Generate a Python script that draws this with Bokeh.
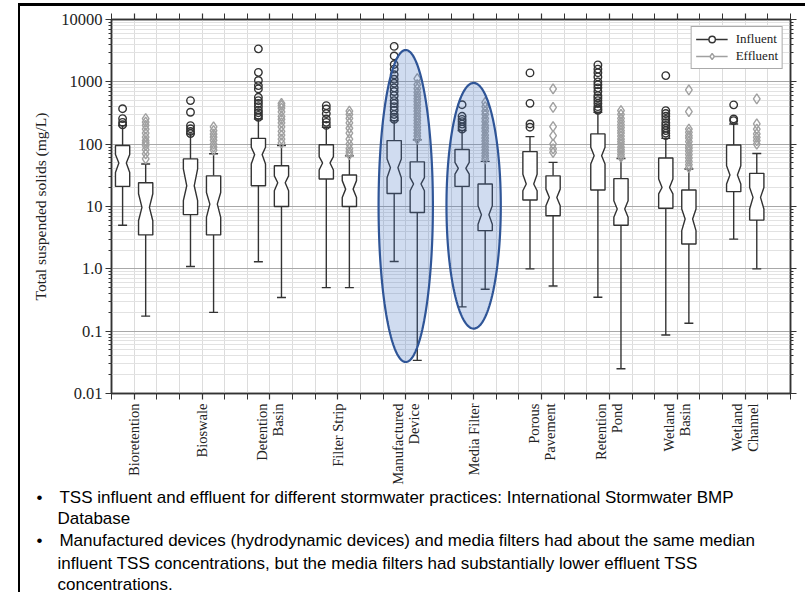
import numpy as np
from bokeh.plotting import figure
from bokeh.models import (FixedTicker, LinearAxis, LogAxis, Legend, LegendItem,
                          Title, Range1d)
from bokeh.embed import file_html
from bokeh.resources import INLINE

# ---------------- data ----------------
categories = ["Bioretention", "Bioswale", "Detention\nBasin", "Filter Strip",
              "Manufactured\nDevice", "Media Filter", "Porous\nPavement",
              "Retention\nPond", "Wetland\nBasin", "Wetland\nChannel"]

inf_lo = [5.0, 1.09, 1.3, 0.5, 1.31, 0.245, 1.0, 0.35, 0.087, 3.0]
inf_q1 = [21, 7.4, 21.5, 27.6, 16.2, 21, 12.7, 18.4, 9.4, 17.3]
inf_notch_lo = [35, 12.4, 48, 38.5, 29, 33, 17.9, 48, 15.9, 23]
inf_median = [50, 21.5, 68, 50, 42, 41, 23, 65, 20.2, 32]
inf_notch_hi = [68, 40, 89, 63, 58, 51, 33, 89, 27.6, 45]
inf_q3 = [95, 58, 124, 98, 114, 82, 76, 146, 60, 97]
inf_hi = [198, 146, 254, 187, 239, 165, 132, 324, 124, 211]
inf_outliers = [
    [205, 224, 257, 371],
    [148, 160, 177, 198, 325, 500],
    [270, 290, 320, 350, 400, 450, 500, 565, 770, 870, 1050, 1420, 3380],
    [200, 224, 254, 310, 367, 415],
    [250, 270, 300, 350, 400, 450, 500, 600, 700, 800, 950, 1100, 1300, 1600, 1900, 2600, 3700],
    [175, 190, 210, 230, 250, 280, 430],
    [187, 211, 452, 1390],
    [350, 370, 400, 450, 500, 550, 600, 700, 800, 900, 1000, 1200, 1400, 1600, 1870],
    [137, 150, 165, 180, 200, 220, 250, 280, 310, 345, 1260],
    [239, 254, 427],
]

eff_lo = [0.174, 0.2, 0.346, 0.5, 0.034, 0.47, 0.53, 0.025, 0.134, 1.0]
eff_q1 = [3.5, 3.5, 10, 10, 8.0, 4.1, 7.1, 5.0, 2.5, 6.05]
eff_notch_lo = [5.9, 6.7, 17.9, 14, 17.9, 5.2, 10.3, 6.7, 4.1, 9.1]
eff_median = [9.7, 10.9, 24, 19, 23, 7.4, 14, 9.1, 6.3, 14]
eff_notch_hi = [16, 16.8, 31, 26, 29, 10.3, 19, 12.4, 9.1, 20.2]
eff_q3 = [24, 31, 45, 32, 52, 23, 31, 28, 18.4, 34]
eff_hi = [48, 70, 95, 65, 117, 53, 51, 59, 40, 71]
eff_outliers = [
    [58, 70, 82, 95, 105, 114, 130, 150, 175, 200, 225, 257],
    [80, 90, 100, 115, 130, 145, 165, 190],
    [105, 120, 140, 160, 190, 220, 250, 280, 330, 380, 420, 450],
    [68, 75, 85, 100, 120, 150, 180, 220, 260, 300, 340],
    [120, 135, 150, 170, 190, 215, 240, 270, 300, 340, 380, 430, 480, 540, 600, 680, 780, 900, 1130],
    [58, 65, 72, 80, 90, 100, 112, 125, 140, 160, 180, 200, 230, 260, 300, 340, 400, 470],
    [74, 84, 100, 137, 191, 390, 771],
    [62, 68, 75, 82, 90, 100, 110, 120, 135, 150, 165, 185, 205, 230, 260, 300, 345],
    [42, 47, 53, 60, 68, 77, 86, 95, 110, 125, 137, 155, 175, 333, 743],
    [100, 114, 129, 146, 175, 211, 532],
]

y_tick_values = [0.01, 0.1, 1, 10, 100, 1000, 10000]
y_tick_labels = ["0.01", "0.1", "1.0", "10", "100", "1000", "10000"]

# highlighted groups (ellipses): category, top value, bottom value
highlight_cats = ["Manufactured\nDevice", "Media Filter"]
highlight_top = [3240, 960]
highlight_bottom = [0.032, 0.11]

y_label = "Total suspended solids (mg/L)"
notes = [
    (True, "TSS influent and effluent for different stormwater practices: International Stormwater BMP"),
    (False, "Database"),
    (True, "Manufactured devices (hydrodynamic devices) and media filters had about the same median"),
    (False, "influent TSS concentrations, but the media filters had substantially lower effluent TSS"),
    (False, "concentrations."),
]

# ---------------- styles ----------------
SERIF = "Liberation Serif"
NARROW = "'Liberation Sans Narrow', 'Arial Narrow', 'Liberation Sans', sans-serif"
DARK = "#333333"
GREY = "#a0a0a0"
OFF = 0.17
HW = 0.105
WAIST = 0.055
CAP = 0.066

n = len(categories)
centers = list(range(1, n + 1))

p = figure(width=787, height=589,
           x_range=Range1d(1 - 1 / 3, n + 2 / 3), y_range=Range1d(0.01, 10000),
           y_axis_type="log", output_backend="svg", toolbar_location=None,
           min_border_left=91, min_border_right=17, min_border_top=13,
           min_border_bottom=202)
# slide frame (thick black top and left borders)
p.styles = {"margin-left": "18px", "margin-top": "3px",
            "border-top": "3px solid black", "border-left": "2.5px solid black"}
p.background_fill_color = "white"
p.border_fill_color = "white"
p.outline_line_color = DARK
p.outline_line_width = 1.5

# grids
p.xgrid.grid_line_color = "#dcdcdc"
p.xgrid.minor_grid_line_color = "#dcdcdc"
p.ygrid.grid_line_color = "#a8a8a8"
p.ygrid.minor_grid_line_color = "#e2e2e2"

thirds = [1 - 1 / 3 + k / 3 for k in range(3 * n + 1)]
xticker = FixedTicker(ticks=centers, minor_ticks=[t for t in thirds if abs(t - round(t)) > 1e-6])
yminor = [d * m for d in y_tick_values[:-1] for m in range(2, 10)]
yticker = FixedTicker(ticks=y_tick_values, minor_ticks=yminor)

xa = p.xaxis[0]
xa.ticker = xticker
xa.major_label_overrides = {c: lab for c, lab in zip(centers, categories)}
xa.major_label_orientation = np.pi / 2
xa.major_label_text_font = SERIF
xa.major_label_text_font_size = "14.5px"
xa.major_label_text_line_height = 1.0
xa.major_label_text_color = "#222222"
xa.major_label_standoff = 4
xa.axis_label_standoff = 0

ya = p.yaxis[0]
ya.ticker = yticker
ya.major_label_overrides = {v: l for v, l in zip(y_tick_values, y_tick_labels)}
ya.major_label_text_font = SERIF
ya.major_label_text_font_size = "16.5px"
ya.major_label_text_color = "#222222"
ya.major_label_standoff = 3
ya.axis_label = y_label
ya.axis_label_text_font = SERIF
ya.axis_label_text_font_size = "15.5px"
ya.axis_label_text_font_style = "normal"
ya.axis_label_text_color = "#222222"
ya.axis_label_standoff = 9

top_ax = LinearAxis(ticker=xticker, major_label_overrides={c: "" for c in centers})
right_ax = LogAxis(ticker=yticker, major_label_overrides={v: "" for v in y_tick_values})
p.add_layout(top_ax, "above")
p.add_layout(right_ax, "right")

for ax, is_x in [(xa, True), (top_ax, True), (ya, False), (right_ax, False)]:
    ax.axis_line_color = DARK
    ax.axis_line_width = 1.5
    ax.major_tick_line_color = DARK
    ax.minor_tick_line_color = DARK
    ax.major_tick_line_width = 1.2
    ax.minor_tick_line_width = 1.0
    ax.major_tick_in = 0
    ax.minor_tick_in = 0
    ax.major_tick_out = 6
    ax.minor_tick_out = 6 if is_x else 3


def draw_group(offset, lo, q1, nlo, med, nhi, q3, hi, outl, ocolor, marker, msize):
    xs, ys = [], []
    for i in range(n):
        xc = centers[i] + offset
        xs.append([xc - HW, xc + HW, xc + HW, xc + WAIST, xc + HW, xc + HW,
                   xc - HW, xc - HW, xc - WAIST, xc - HW])
        ys.append([q1[i], q1[i], nlo[i], med[i], nhi[i], q3[i], q3[i], nhi[i], med[i], nlo[i]])
    xpos = [c + offset for c in centers]
    p.segment(x0=xpos, y0=q3, x1=xpos, y1=hi, line_color=DARK, line_width=1.4)
    p.segment(x0=xpos, y0=q1, x1=xpos, y1=lo, line_color=DARK, line_width=1.4)
    p.segment(x0=[x - CAP for x in xpos], y0=hi, x1=[x + CAP for x in xpos], y1=hi,
              line_color=DARK, line_width=1.4)
    p.segment(x0=[x - CAP for x in xpos], y0=lo, x1=[x + CAP for x in xpos], y1=lo,
              line_color=DARK, line_width=1.4)
    p.patches(xs=xs, ys=ys, fill_color="white", line_color=DARK, line_width=1.4)
    ox = [xpos[i] for i in range(n) for _ in outl[i]]
    oy = [v for i in range(n) for v in outl[i]]
    return p.scatter(x=ox, y=oy, marker=marker, size=msize, fill_color=None,
                     line_color=ocolor, line_width=1.4)


inf_pts = draw_group(-OFF, inf_lo, inf_q1, inf_notch_lo, inf_median, inf_notch_hi, inf_q3,
                     inf_hi, inf_outliers, DARK, "circle", 7.5)
eff_pts = draw_group(OFF, eff_lo, eff_q1, eff_notch_lo, eff_median, eff_notch_hi, eff_q3,
                     eff_hi, eff_outliers, GREY, "diamond", 10)

# highlight ellipses
t = np.linspace(0, 2 * np.pi, 200)
for cat, top, bot in zip(highlight_cats, highlight_top, highlight_bottom):
    cx = centers[categories.index(cat)]
    lc = (np.log10(top) + np.log10(bot)) / 2
    lh = (np.log10(top) - np.log10(bot)) / 2
    ex = cx + 0.40 * np.cos(t)
    ey = 10 ** (lc + lh * np.sin(t))
    p.patch(x=ex, y=ey, fill_color="#4472c4", fill_alpha=0.25,
            line_color="#2f5597", line_width=2.2)

# bullet notes below the axis (titles stacked under the plot)
for k, (bullet, txt) in enumerate(notes):
    text = ("\u2022\u2003" + txt) if bullet else txt
    off = -75 if bullet else -54
    ttl = Title(text=text, align="left", offset=off, standoff=(3 if (bullet and k > 0) else 0),
                vertical_align="top",
                text_font=NARROW, text_font_size="17px", text_font_style="normal",
                text_color="black", text_line_height=0.92)
    p.add_layout(ttl, "below")

# legend proxies (not-a-number data: nothing drawn in the plot, only in the legend)
nan = [float("nan")]
li = p.line(x=nan, y=nan, line_color=DARK, line_width=1.5)
si = p.scatter(x=nan, y=nan, marker="circle", size=7.5, fill_color="white",
               line_color=DARK, line_width=1.4)
le = p.line(x=nan, y=nan, line_color=GREY, line_width=1.5)
se = p.scatter(x=nan, y=nan, marker="diamond", size=10, fill_color="white",
               line_color=GREY, line_width=1.4)
legend = Legend(items=[LegendItem(label="Influent", renderers=[li, si]),
                       LegendItem(label="Effluent", renderers=[le, se])],
                location="top_right")
legend.label_text_font = SERIF
legend.label_text_font_size = "13px"
legend.label_text_color = "#222222"
legend.border_line_color = "#555555"
legend.border_line_width = 1.2
legend.background_fill_alpha = 1.0
legend.margin = 7
legend.padding = 4
legend.spacing = 1
legend.glyph_width = 32
legend.glyph_height = 16
legend.label_height = 16
legend.label_standoff = 8
p.add_layout(legend)

open("out.html", "w").write(file_html(p, INLINE))
